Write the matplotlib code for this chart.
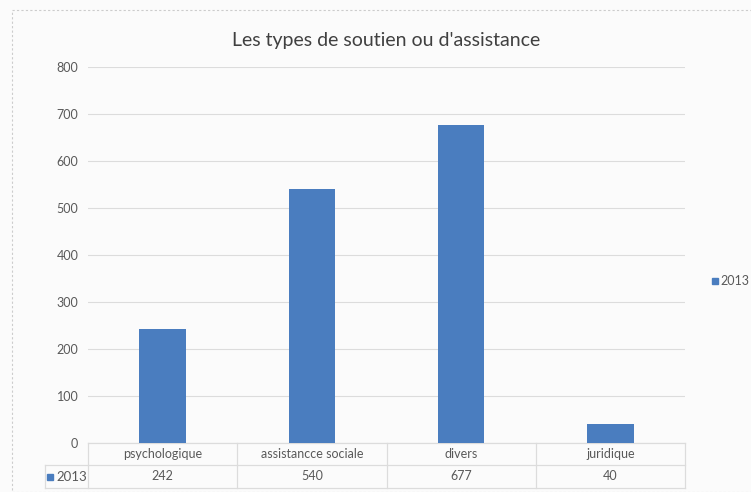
import matplotlib.pyplot as plt
import matplotlib.transforms as mtransforms
from matplotlib.patches import Rectangle

# data
categories = ['psychologique', 'assistancce sociale', 'divers', 'juridique']
values_2013 = [242, 540, 677, 40]
series_name = '2013'
y_ticks = [0, 100, 200, 300, 400, 500, 600, 700, 800]

bar_color = '#4a7dbf'
grid_color = '#dcdcdc'
text_color = '#595959'

plt.rcParams['font.family'] = ['Lato', 'DejaVu Sans']

W, H = 751, 492
fig = plt.figure(figsize=(W / 100, H / 100), dpi=100)
fig.patch.set_facecolor('#fbfbfb')
fig.patches.append(Rectangle((12 / W, 0), 1, 1 - 10 / H, transform=fig.transFigure,
                             fill=False, edgecolor='#cccccc', lw=0.8, ls=(0, (2, 2))))

ax = fig.add_axes([88 / W, 49 / H, 597 / W, 376 / H])
ax.set_facecolor('none')

x = list(range(len(categories)))
ax.bar(x, values_2013, width=0.31, color=bar_color, zorder=3)

ax.set_xlim(-0.5, len(categories) - 0.5)
ax.set_ylim(0, 800)
ax.set_yticks(y_ticks)
ax.set_yticklabels([str(v) for v in y_ticks], color=text_color, fontsize=9)
ax.tick_params(axis='y', length=0, pad=7)
ax.set_xticks([])
ax.grid(axis='y', color=grid_color, lw=0.8, zorder=0)
for s in ax.spines.values():
    s.set_visible(False)

ax.set_title("Les types de soutien ou d'assistance", fontsize=14, color='#404040', pad=15)

# data table under the chart
trans = mtransforms.blended_transform_factory(ax.transData, ax.transAxes)
row1 = -22 / 376
row2 = -45 / 376
left_x = -0.5 - 43 / 149.25
right_x = len(categories) - 0.5
line_kw = dict(color=grid_color, lw=0.9, transform=trans, clip_on=False)
ax.plot([-0.5, right_x], [0, 0], **line_kw)
ax.plot([left_x, right_x], [row1, row1], **line_kw)
ax.plot([left_x, right_x], [row2, row2], **line_kw)
ax.plot([left_x, left_x], [row1, row2], **line_kw)
for b in [i - 0.5 for i in range(len(categories) + 1)]:
    ax.plot([b, b], [0, row2], **line_kw)

for i, (c, v) in enumerate(zip(categories, values_2013)):
    ax.text(i, row1 / 2, c, transform=trans, ha='center', va='center',
            fontsize=9, color=text_color)
    ax.text(i, (row1 + row2) / 2, str(v), transform=trans, ha='center', va='center',
            fontsize=9, color=text_color)

# series key in the table (square + name)
ky = H - 477
fig.patches.append(Rectangle((47 / W, (ky - 3) / H), 6 / W, 6 / H,
                             transform=fig.transFigure, color=bar_color))
fig.text(56 / W, ky / H, series_name, ha='left', va='center', fontsize=9.5,
         color=text_color)

# legend on the right
ly = H - 281
fig.patches.append(Rectangle((712 / W, (ly - 3) / H), 6 / W, 6 / H,
                             transform=fig.transFigure, color=bar_color))
fig.text(720 / W, ly / H, series_name, ha='left', va='center', fontsize=9,
         color=text_color)

fig.savefig('out.png', dpi=100, facecolor=fig.get_facecolor())
